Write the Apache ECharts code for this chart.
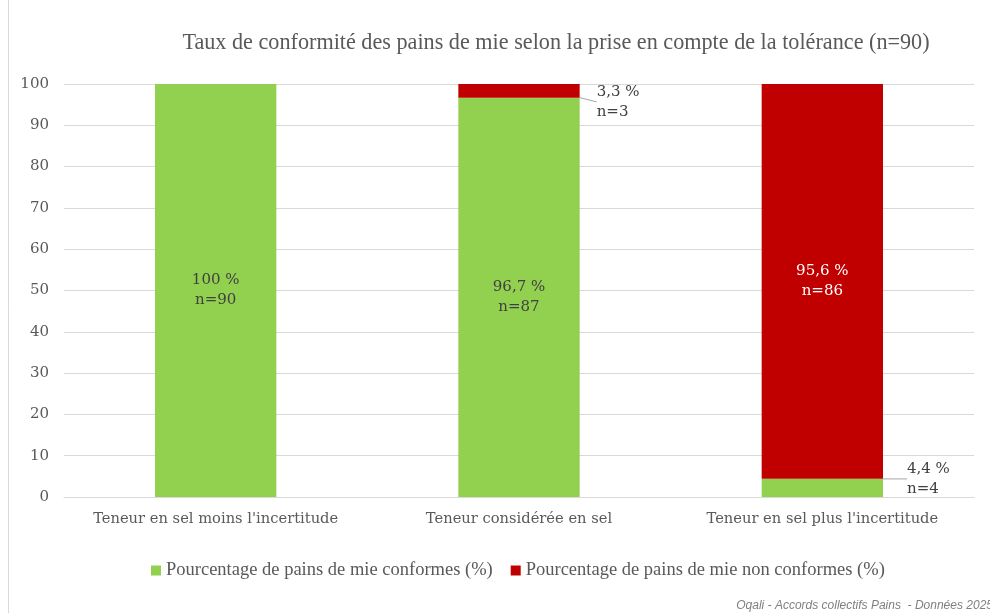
<!DOCTYPE html>
<html>
<head>
<meta charset="utf-8">
<script src="https://cdn.jsdelivr.net/npm/echarts@6/dist/echarts.min.js"></script>
<style>
  html, body { margin: 0; padding: 0; background: #ffffff; }
  #chart { width: 990px; height: 613px; }
</style>
</head>
<body>
<div id="chart"></div>
<script>
// categories and values
const categories = [
  "Teneur en sel moins l'incertitude",
  "Teneur considérée en sel",
  "Teneur en sel plus l'incertitude"
];
const conformes = [100, 96.7, 4.4];
const nonConformes = [0, 3.3, 95.6];
const nConformes = [90, 87, 4];
const nNonConformes = [0, 3, 86];

const SERIF = "'DejaVu Serif', 'Liberation Serif', serif";
const NARROW = "'Liberation Serif', serif";
const fmt = v => (v === 100 ? "100" : String(v).replace(".", ",")) + " %";

const chart = echarts.init(document.getElementById("chart"));

const option = {
  animation: false,
  backgroundColor: "#ffffff",
  title: {
    text: "Taux de conformité des pains de mie selon la prise en compte de la tolérance (n=90)",
    left: 551,
    textAlign: "center",
    top: 27,
    textStyle: { fontFamily: NARROW, fontSize: 22.2, fontWeight: "normal", color: "#595959" }
  },
  legend: {
    bottom: 28,
    left: 146,
    itemWidth: 10,
    itemHeight: 10,
    itemGap: 18,
    icon: "rect",
    textStyle: { fontFamily: NARROW, fontSize: 18.5, color: "#595959" },
    data: ["Pourcentage de pains de mie conformes (%)", "Pourcentage de pains de mie non conformes (%)"]
  },
  grid: { left: 64, right: 16, top: 84, bottom: 116 },
  xAxis: {
    type: "category",
    data: categories,
    axisLine: { lineStyle: { color: "#d9d9d9" } },
    axisTick: { show: false },
    axisLabel: { interval: 0, fontFamily: SERIF, fontSize: 14.7, color: "#595959", margin: 15 }
  },
  yAxis: {
    type: "value",
    min: 0,
    max: 100,
    interval: 10,
    axisLine: { show: false },
    axisTick: { show: false },
    splitLine: { lineStyle: { color: "#d9d9d9" } },
    axisLabel: { fontFamily: SERIF, fontSize: 15, color: "#595959", margin: 15 }
  },
  series: [
    {
      name: "Pourcentage de pains de mie conformes (%)",
      type: "bar",
      stack: "total",
      barWidth: "40%",
      itemStyle: { color: "#92d050" },
      data: conformes.map(v => {
        const d = { value: v };
        if (v < 10) {
          d.label = { position: "right", distance: 8, color: "#404040" };
        }
        return d;
      }),
      label: {
        show: true,
        position: "inside",
        fontFamily: SERIF,
        fontSize: 15,
        lineHeight: 20,
        color: "#404040",
        formatter: p => fmt(p.value) + "\nn=" + nConformes[p.dataIndex]
      },
      labelLine: { show: true, lineStyle: { color: "#a6a6a6", width: 1 } },
      labelLayout: p => (p.dataIndex === 2 ? { dx: 16, dy: -9 } : {})
    },
    {
      name: "Pourcentage de pains de mie non conformes (%)",
      type: "bar",
      stack: "total",
      barWidth: "40%",
      itemStyle: { color: "#c00000" },
      data: nonConformes.map(v => {
        const d = { value: v };
        if (v > 0 && v < 10) {
          d.label = { position: "right", distance: 8, color: "#404040" };
        }
        return d;
      }),
      label: {
        show: true,
        position: "inside",
        fontFamily: SERIF,
        fontSize: 15,
        lineHeight: 20,
        color: "#ffffff",
        formatter: p => (p.value > 0 ? fmt(p.value) + "\nn=" + nNonConformes[p.dataIndex] : "")
      },
      labelLine: { show: true, lineStyle: { color: "#a6a6a6", width: 1 } },
      labelLayout: p => (p.dataIndex === 1 ? { dx: 9, dy: 11 } : {})
    }
  ],
  graphic: [
    {
      type: "line",
      shape: { x1: 8.5, y1: 0, x2: 8.5, y2: 613 },
      style: { stroke: "#d9d9d9", lineWidth: 1 }
    },
    {
      type: "text",
      right: -3,
      bottom: 1,
      style: {
        text: "Oqali - Accords collectifs Pains  - Données 2025",
        font: "italic 12px 'Liberation Sans', 'DejaVu Sans', sans-serif",
        fill: "#7f7f7f"
      }
    }
  ]
};

chart.setOption(option);
</script>
</body>
</html>
